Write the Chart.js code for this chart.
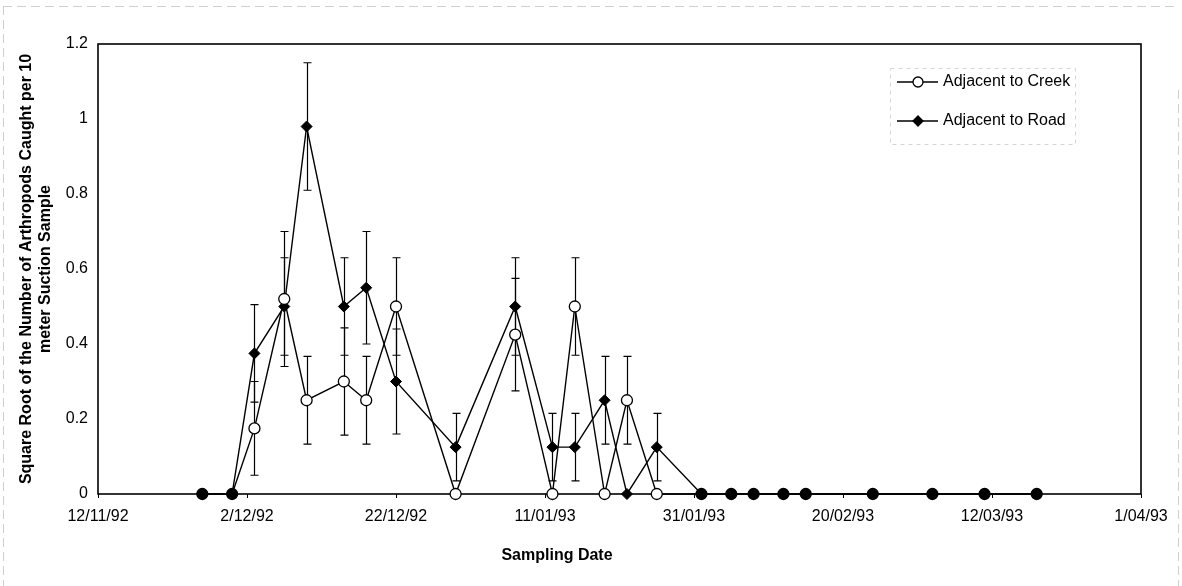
<!DOCTYPE html>
<html>
<head>
<meta charset="utf-8">
<title>Arthropod suction samples</title>
<script src="https://cdn.jsdelivr.net/npm/chart.js@4.4.1/dist/chart.umd.min.js"></script>
<style>
  html, body { margin: 0; padding: 0; background: #fff; }
  #wrap { position: relative; width: 1182px; height: 586px; }
</style>
</head>
<body>
<div id="wrap"><canvas id="suctionChart" width="1182" height="586"></canvas></div>
<script>
// Day 0 of the date axis
const ORIGIN = '1992-11-12';

const sampleDates = [
    '1992-11-26', '1992-11-30', '1992-12-03', '1992-12-07', '1992-12-10', '1992-12-15',
    '1992-12-18', '1992-12-22', '1992-12-30', '1993-01-07', '1993-01-12', '1993-01-15',
    '1993-01-19', '1993-01-22', '1993-01-26', '1993-02-01', '1993-02-05', '1993-02-08',
    '1993-02-12', '1993-02-15', '1993-02-24', '1993-03-04', '1993-03-11', '1993-03-18'
];

const creekMeans = [0, 0, 0.175, 0.52, 0.25, 0.30, 0.25, 0.50, 0, 0.425, 0, 0.50,
                    0, 0.25, 0, 0, 0, 0, 0, 0, 0, 0, 0, 0];
const creekErr   = [0, 0, 0.125, 0.18, 0.117, 0.143, 0.117, 0.13, 0, 0.15, 0, 0.13,
                    0, 0.117, 0, 0, 0, 0, 0, 0, 0, 0, 0, 0];

const roadMeans = [0, 0, 0.375, 0.50, 0.98, 0.50, 0.55, 0.30, 0.125, 0.50, 0.125, 0.125,
                   0.25, 0, 0.125, 0, 0, 0, 0, 0, 0, 0, 0, 0];
const roadErr   = [0, 0, 0.13, 0.13, 0.17, 0.13, 0.15, 0.14, 0.09, 0.13, 0.09, 0.09,
                   0.117, 0, 0.09, 0, 0, 0, 0, 0, 0, 0, 0, 0];

const xTickLabels = ['12/11/92', '2/12/92', '22/12/92', '11/01/93', '31/01/93', '20/02/93', '12/03/93', '1/04/93'];

const FONT = 'Arial, "Liberation Sans", sans-serif';
const DAY_MS = 86400000;

function toDay(iso) {
    return (Date.parse(iso) - Date.parse(ORIGIN)) / DAY_MS;
}

// '2/12/92' -> days since ORIGIN
function labelToDay(label) {
    const [d, m, y] = label.split('/').map(Number);
    return (Date.UTC(1900 + y, m - 1, d) - Date.parse(ORIGIN)) / DAY_MS;
}

function points(values) {
    return sampleDates.map((d, i) => ({ x: toDay(d), y: values[i] }));
}

// vertical +/- bars with small caps, drawn under the markers
const errorBars = {
    id: 'errorBars',
    beforeDatasetsDraw(chart) {
        const { ctx, scales: { x, y } } = chart;
        ctx.save();
        ctx.strokeStyle = '#000';
        ctx.lineWidth = 1.2;
        chart.data.datasets.forEach(ds => {
            ds.data.forEach((p, i) => {
                const e = ds.errorBar[i];
                if (!e) return;
                const px = Math.round(x.getPixelForValue(p.x)) + 0.5;
                const top = y.getPixelForValue(p.y + e);
                const bot = y.getPixelForValue(Math.max(p.y - e, 0));
                ctx.beginPath();
                ctx.moveTo(px, top);
                ctx.lineTo(px, bot);
                ctx.moveTo(px - 4, top);
                ctx.lineTo(px + 4, top);
                ctx.moveTo(px - 4, bot);
                ctx.lineTo(px + 4, bot);
                ctx.stroke();
            });
        });
        ctx.restore();
    }
};

// black frame round the plot area, the faint outer border and the x title
const frame = {
    id: 'frame',
    beforeDatasetsDraw(chart) {
        const { ctx, chartArea: a } = chart;
        ctx.save();
        ctx.strokeStyle = '#000';
        ctx.lineWidth = 1.6;
        ctx.strokeRect(a.left, a.top, a.right - a.left, a.bottom - a.top);

        ctx.strokeStyle = '#cfcfcf';
        ctx.lineWidth = 1;
        ctx.setLineDash([9, 5]);
        ctx.beginPath();
        ctx.moveTo(3, 6.5);
        ctx.lineTo(1179, 6.5);
        ctx.moveTo(3.5, 6);
        ctx.lineTo(3.5, 586);
        ctx.moveTo(1178.5, 90);
        ctx.lineTo(1178.5, 586);
        ctx.stroke();

        ctx.fillStyle = '#000';
        ctx.font = 'bold 16px ' + FONT;
        ctx.textAlign = 'center';
        ctx.textBaseline = 'middle';
        ctx.fillText('Sampling Date', 557, 556);
        ctx.restore();
    }
};

// legend box in the upper right of the plot
const boxLegend = {
    id: 'boxLegend',
    afterDraw(chart) {
        const { ctx } = chart;
        ctx.save();
        ctx.strokeStyle = '#d4d4d4';
        ctx.lineWidth = 1;
        ctx.setLineDash([4, 4]);
        ctx.strokeRect(890.5, 68.5, 185, 76);
        ctx.setLineDash([]);

        const rows = [82, 121];
        chart.data.datasets.forEach((ds, i) => {
            const cy = rows[i];
            ctx.strokeStyle = '#000';
            ctx.lineWidth = 1.3;
            ctx.beginPath();
            ctx.moveTo(897, cy);
            ctx.lineTo(938, cy);
            ctx.stroke();

            ctx.beginPath();
            if (ds.pointStyle === 'rectRot') {
                const r = 5;
                ctx.moveTo(918, cy - r);
                ctx.lineTo(918 + r, cy);
                ctx.lineTo(918, cy + r);
                ctx.lineTo(918 - r, cy);
                ctx.closePath();
                ctx.fillStyle = '#000';
            } else {
                ctx.arc(918, cy, 5, 0, Math.PI * 2);
                ctx.fillStyle = '#fff';
            }
            ctx.fill();
            ctx.stroke();

            ctx.fillStyle = '#000';
            ctx.font = '16px ' + FONT;
            ctx.textBaseline = 'middle';
            ctx.textAlign = 'left';
            ctx.fillText(ds.label, 943, cy);
        });
        ctx.restore();
    }
};

const ctx = document.getElementById('suctionChart').getContext('2d');

new Chart(ctx, {
    type: 'line',
    data: {
        datasets: [
            {
                label: 'Adjacent to Creek',
                data: points(creekMeans),
                errorBar: creekErr,
                borderColor: '#000',
                borderWidth: 1.4,
                pointStyle: 'circle',
                pointRadius: 5.5,
                pointBorderWidth: 1.3,
                pointBorderColor: '#000',
                // where both series sit at zero the markers merge into a solid dot
                pointBackgroundColor: creekMeans.map((v, i) => (v === 0 && roadMeans[i] === 0) ? '#000' : '#fff'),
                tension: 0,
                clip: false
            },
            {
                label: 'Adjacent to Road',
                data: points(roadMeans),
                errorBar: roadErr,
                borderColor: '#000',
                borderWidth: 1.4,
                pointStyle: 'rectRot',
                pointRadius: 5.5,
                pointBorderWidth: 1,
                pointBorderColor: '#000',
                pointBackgroundColor: '#000',
                tension: 0,
                clip: false
            }
        ]
    },
    options: {
        responsive: false,
        animation: false,
        events: [],
        layout: { padding: { left: 0, top: 44, right: 41, bottom: 0 } },
        plugins: {
            legend: { display: false },
            tooltip: { enabled: false }
        },
        scales: {
            x: {
                type: 'linear',
                min: labelToDay(xTickLabels[0]),
                max: labelToDay(xTickLabels[xTickLabels.length - 1]),
                afterFit: scale => { scale.height = 92; },
                afterBuildTicks: scale => {
                    scale.ticks = xTickLabels.map(l => ({ value: labelToDay(l) }));
                },
                border: { display: false },
                grid: {
                    drawOnChartArea: false,
                    drawTicks: true,
                    tickLength: 4,
                    color: '#000',
                    lineWidth: 1
                },
                ticks: {
                    color: '#000',
                    font: { family: FONT, size: 16 },
                    padding: 9,
                    maxRotation: 0,
                    autoSkip: false,
                    callback: (v, i) => xTickLabels[i]
                }
            },
            y: {
                min: 0,
                max: 1.2,
                afterFit: scale => { scale.width = 98; },
                border: { display: false },
                grid: { display: false, drawTicks: false },
                ticks: {
                    stepSize: 0.2,
                    color: '#000',
                    font: { family: FONT, size: 16 },
                    padding: 10,
                    callback: v => String(Number(v.toFixed(1)))
                },
                title: {
                    display: true,
                    text: ['Square Root of the Number of Arthropods Caught per 10', 'meter Suction Sample'],
                    color: '#000',
                    font: { family: FONT, size: 16, weight: 'bold', lineHeight: 1.2 },
                    padding: { top: 17, bottom: 0 }
                }
            }
        }
    },
    plugins: [frame, errorBars, boxLegend]
});
</script>
</body>
</html>
